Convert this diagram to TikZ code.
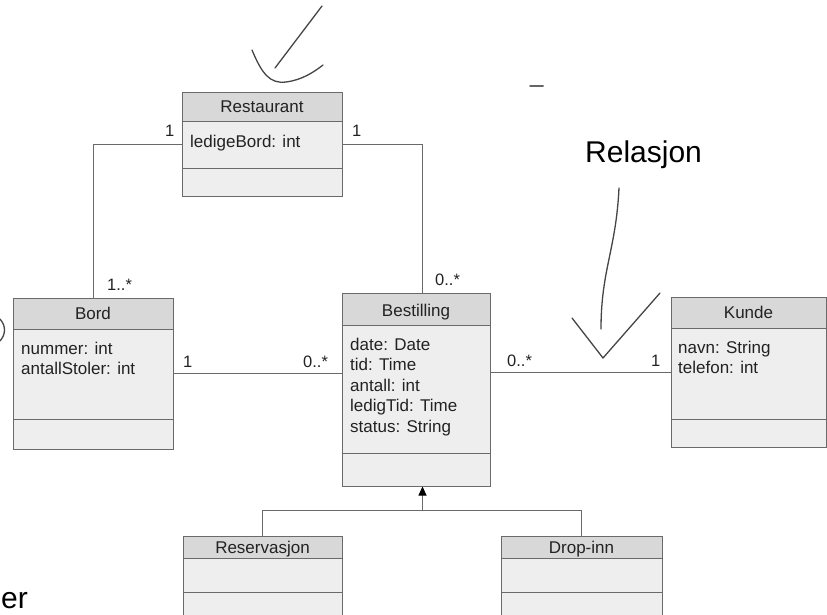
\documentclass[tikz,border=0pt]{standalone}
\usepackage{fontspec}
\setmainfont{Liberation Sans}
\usetikzlibrary{arrows.meta}
\definecolor{headc}{HTML}{D8D8D8}
\definecolor{bodyc}{HTML}{EEEEEE}
\definecolor{linec}{HTML}{6A6A6A}
\definecolor{inkc}{HTML}{454545}
\definecolor{txtc}{HTML}{222222}
% #1 name, #2 x1, #3 y1, #4 x2, #5 y2, #6 header bottom, #7 separator, #8 title, #9 title baseline
\newcommand\umlclass[9]{%
  \fill[bodyc] (#2,#3) rectangle (#4,#5);
  \fill[headc] (#2,#3) rectangle (#4,#6);
  \draw[boxline] (#2,#6) -- (#4,#6) (#2,#7) -- (#4,#7);
  \node[classbox, minimum width={#4-#2}, minimum height={#5-#3}] (#1) at ({(#2+#4)/2},{(#3+#5)/2}) {};
  \node[titletext, anchor=base] (#1-title) at ({(#2+#4)/2},#9) {#8};
}
\begin{document}
\begin{tikzpicture}[x=1pt,y=-1pt,
  boxline/.style={draw=linec, line width=1pt},
  classbox/.style={draw=linec, line width=1pt, inner sep=0pt},
  conn/.style={draw=linec, line width=0.9pt},
  titletext/.style={font=\fontsize{17}{20}\selectfont, inner sep=0pt, text=txtc},
  attr/.style={font=\fontsize{17}{20}\selectfont, inner sep=0pt, anchor=base west, text=txtc},
  mult/.style={font=\fontsize{16.5}{20}\selectfont, inner sep=0pt, anchor=base west, text=txtc},
  ink/.style={draw=inkc, line width=1.3pt, line cap=round, line join=round},
  bigtext/.style={font=\fontsize{30}{34}\selectfont, inner sep=0pt, text=black}]

\useasboundingbox (0,0) rectangle (827,614);

% classes
\umlclass{rest}{182}{92}{342}{196}{121}{168}{Restaurant}{112}
\umlclass{bord}{13}{298}{173}{449}{329}{419}{Bord}{319}
\umlclass{bes}{342}{293}{490}{486}{325}{453}{Bestilling}{316}
\umlclass{kunde}{671}{297}{826}{447}{328}{419}{Kunde}{318}
\umlclass{res}{183}{536}{342}{640}{558}{592}{Reservasjon}{553}
\umlclass{drop}{501}{536}{662}{640}{558}{592}{Drop-inn}{553}

% attributes
\node[attr] (rest-a0) at (190,147) {ledigeBord: int};
\foreach \t [count=\i from 0] in {nummer: int, antallStoler: int}
  \node[attr] (bord-a\i) at (21,354+20.5*\i) {\t};
\foreach \t [count=\i from 0] in {date: Date, tid: Time, antall: int, ledigTid: Time, status: String}
  \node[attr] (bes-a\i) at (350,350+20.5*\i) {\t};
\foreach \t [count=\i from 0] in {navn: String, telefon: int}
  \node[attr] (kunde-a\i) at (678,353+20.5*\i) {\t};

% associations
\draw[conn] (rest.west) -| (bord.north);
\draw[conn] (rest.east) -| ([xshift=6.5pt]bes.north);
\draw[conn] (bord.east) -- (bord.east -| bes.west);
\draw[conn] (kunde.west) -- (kunde.west -| bes.east);

% generalization
\coordinate (gj) at (422.5,510);
\draw[conn] (res.north) |- (gj) -| (drop.north);
\draw[conn, -{Triangle[length=9pt,width=8pt,black]}] (gj) -- ([xshift=6.5pt]bes.south);

% multiplicities
\node[mult] (m1) at (165,136) {1};
\node[mult] (m2) at (352,136) {1};
\node[mult] (m3) at (107,290) {1..*};
\node[mult] (m4) at (435,285) {0..*};
\node[mult] (m5) at (183,367) {1};
\node[mult] (m6) at (303,367) {0..*};
\node[mult] (m7) at (507,366) {0..*};
\node[mult] (m8) at (651,366) {1};

% handwritten annotations
\draw[ink] (322,6) -- (275,68);
\draw[ink] (252,50) .. controls (262,74) and (270,84) .. (286,82) .. controls (302,80) and (314,72) .. (323,65);
\node[bigtext, anchor=base west] (relasjon) at (585,162) {Relasjon};
\draw[ink] (619,188) .. controls (616,250) and (601,270) .. (601,329);
\draw[ink] (572,318) -- (603,358) -- (660,293);
\draw[ink] (0,319) .. controls (6,326) and (6,334) .. (0,341);
\draw[ink, line width=2pt, draw=black!60] (530,86) -- (543,86);
\node[bigtext, anchor=base west] (er) at (1,608) {er};
\end{tikzpicture}
\end{document}
